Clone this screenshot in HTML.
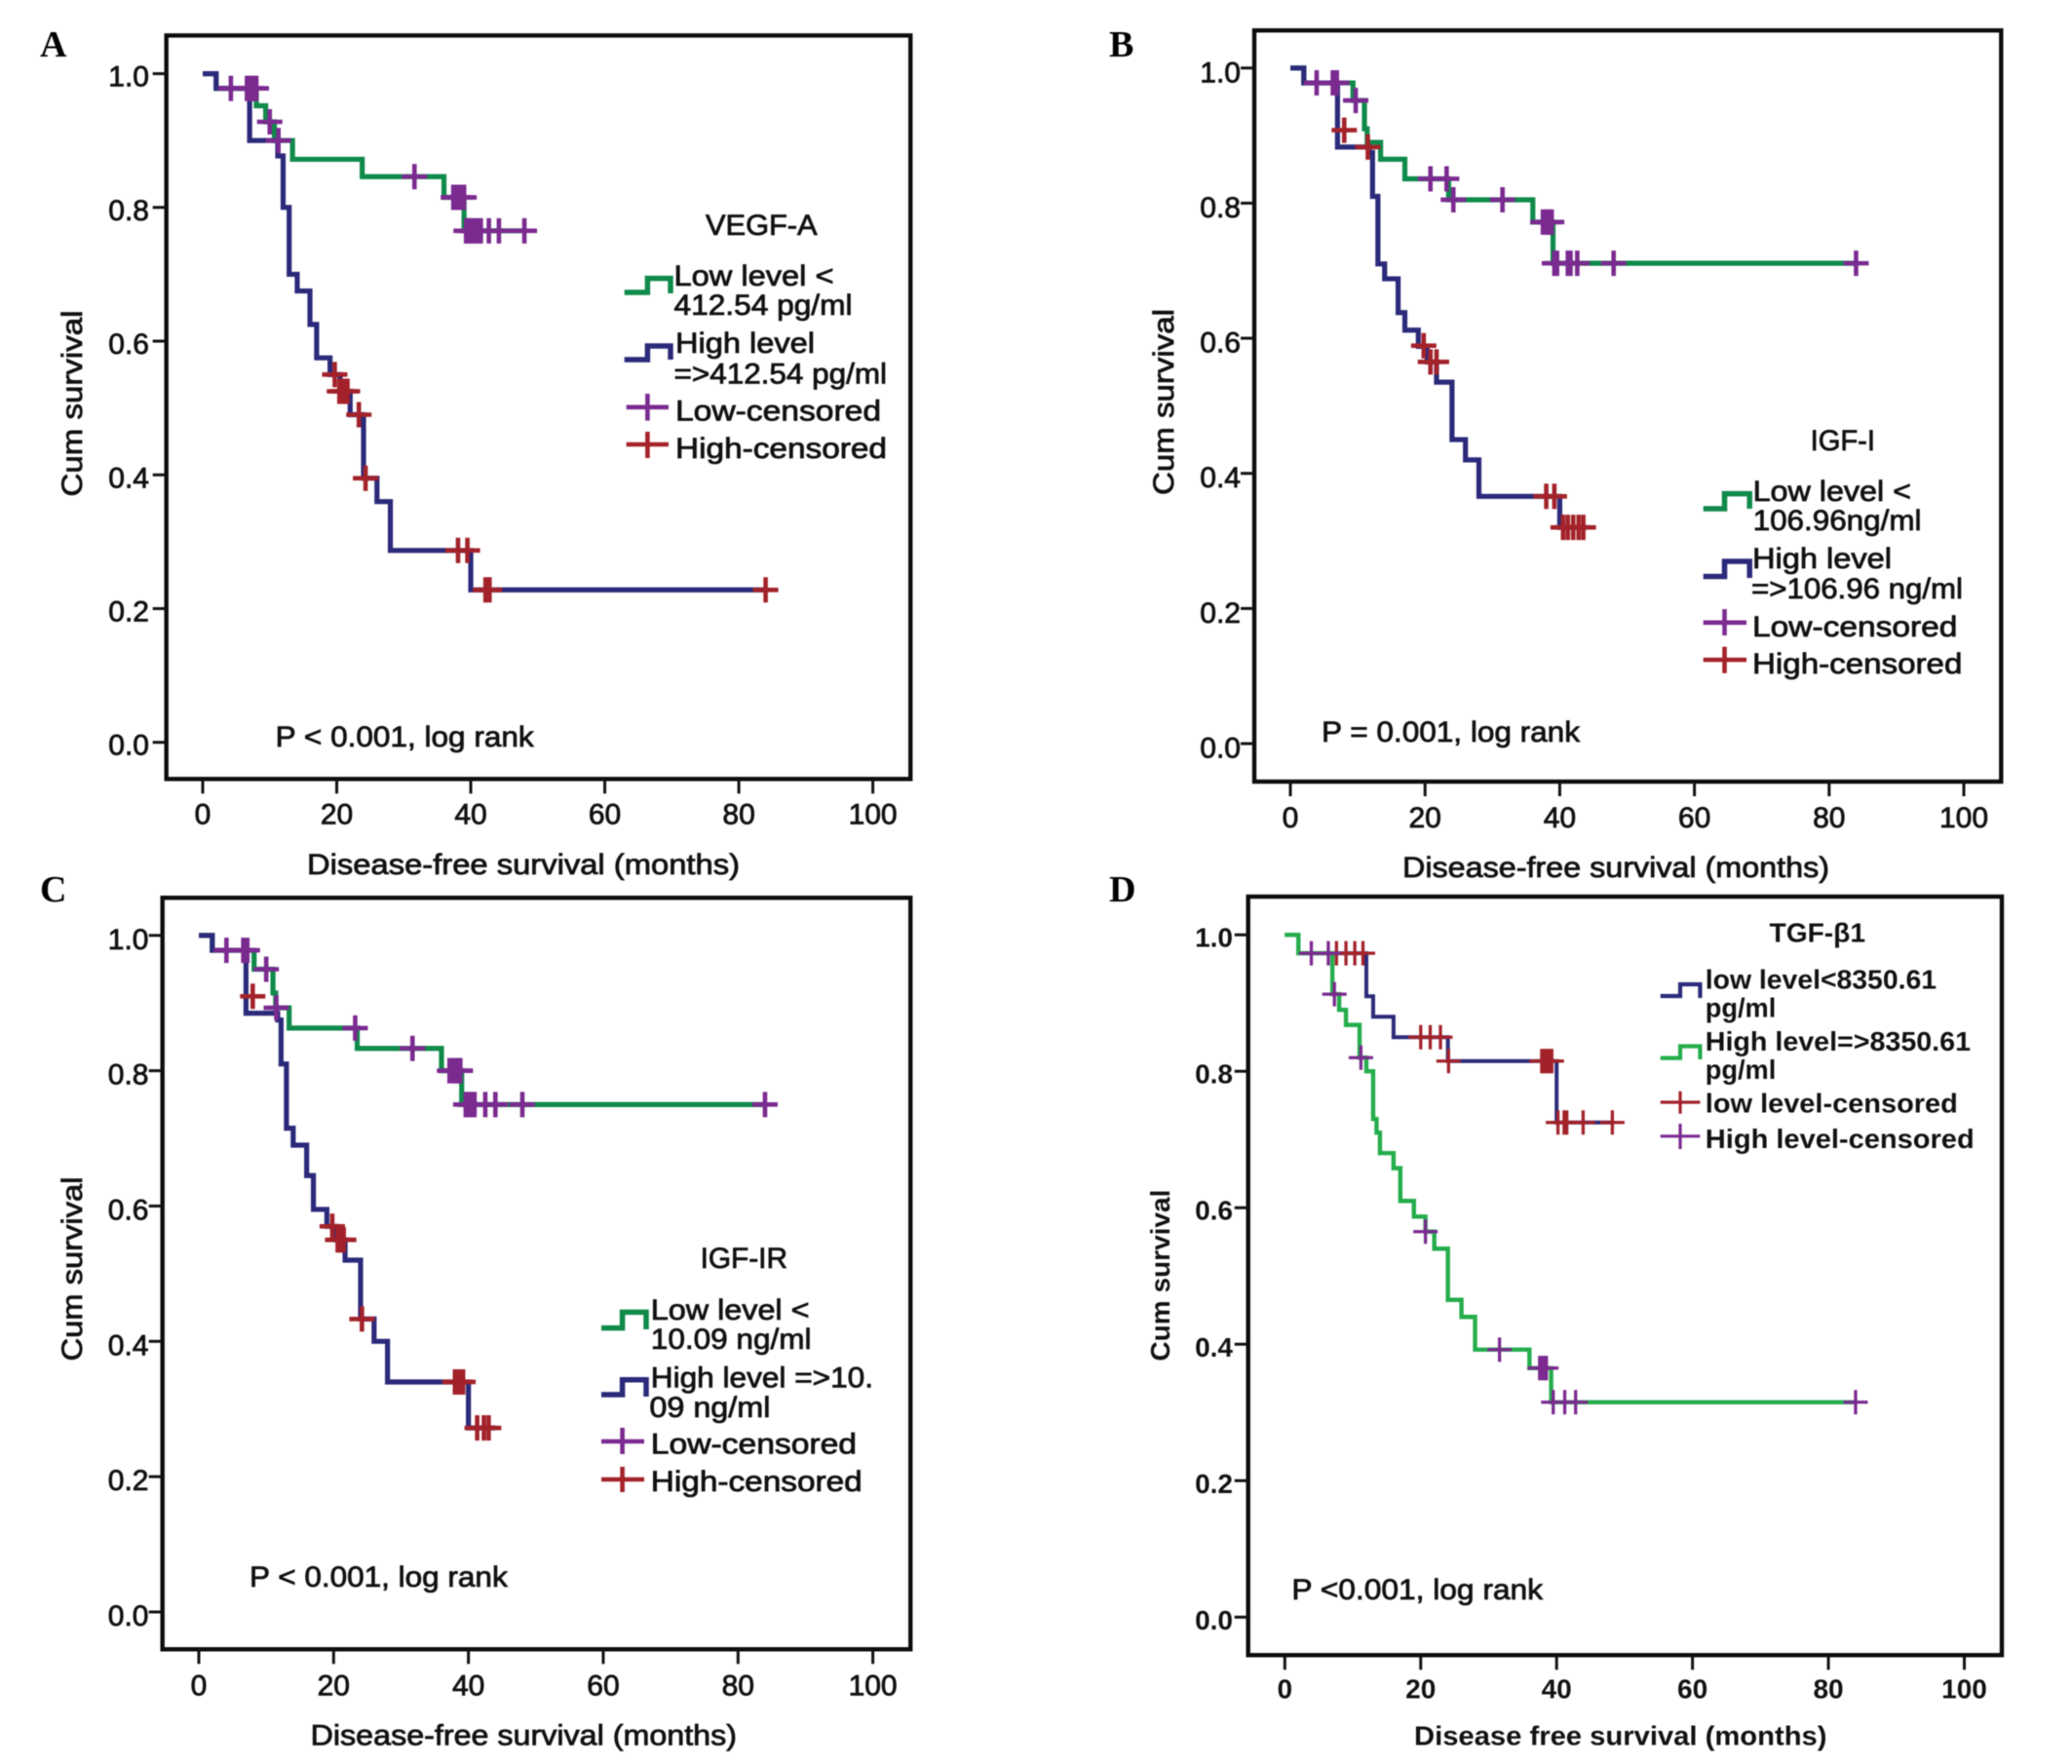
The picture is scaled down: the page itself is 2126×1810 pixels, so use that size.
<!DOCTYPE html>
<html lang="en">
<head>
<meta charset="utf-8">
<title>Disease-free survival Kaplan-Meier curves</title>
<style>
html,body{margin:0;padding:0;background:#fff;}
svg{display:block;filter:blur(.5px);}
text{font-family:"Liberation Sans",sans-serif;font-size:30px;fill:#111;stroke:#111;stroke-width:.8px;}
.bold{font-weight:bold;stroke-width:0;font-size:28px;}
.letter{font-family:"Liberation Serif",serif;font-weight:bold;font-size:38px;stroke-width:0;fill:#000;}
.frame{fill:none;stroke:#0c0c0c;stroke-width:4.4px;}
.sw{fill:none;stroke-width:5.5px;}
.cr{fill:none;stroke-width:4.6px;}
</style>
</head>
<body>
<svg id="figure" xmlns="http://www.w3.org/2000/svg" width="2126" height="1810" viewBox="0 0 2126 1810">
<rect width="2126" height="1810" fill="#fff" stroke="none"/>

<!-- Panel A -->
<g id="panel-a">
<text class="letter" x="41" y="58">A</text>
<rect class="frame" x="170.7" y="36.4" width="763.5" height="762.9"/>
<text x="84" y="414" text-anchor="middle" textLength="191" lengthAdjust="spacingAndGlyphs" transform="rotate(-90 84 414)">Cum survival</text>
<text x="315" y="897" textLength="444" lengthAdjust="spacingAndGlyphs">Disease-free survival (months)</text>
<text x="282.7" y="766" textLength="265" lengthAdjust="spacingAndGlyphs">P &lt; 0.001, log rank</text>
<text x="724" y="241" textLength="114.6" lengthAdjust="spacingAndGlyphs">VEGF-A</text>
<path class="sw" stroke="#0f8a4a" d="M640.7 300H664.4V285.6H688V301"/>
<text x="691.5" y="293" textLength="164" lengthAdjust="spacingAndGlyphs">Low level &lt;</text>
<text x="691.5" y="323" textLength="183" lengthAdjust="spacingAndGlyphs">412.54 pg/ml</text>
<path class="sw" stroke="#2b2a7a" d="M640.7 369H664.4V355H688V369"/>
<text x="693" y="362" textLength="143" lengthAdjust="spacingAndGlyphs">High level</text>
<text x="691.5" y="393.5" textLength="218.5" lengthAdjust="spacingAndGlyphs">=&gt;412.54 pg/ml</text>
<path class="cr" stroke="#7b2a90" d="M642.7 417.8H686M664.4 404V431.6"/>
<text x="693" y="431.6" textLength="211" lengthAdjust="spacingAndGlyphs">Low-censored</text>
<path class="cr" stroke="#a3222a" d="M642.7 456H686M664.4 443V470"/>
<text x="693" y="470" textLength="217" lengthAdjust="spacingAndGlyphs">High-censored</text>
</g>

<!-- Panel B -->
<g id="panel-b">
<text class="letter" x="1138" y="58">B</text>
<rect class="frame" x="1287" y="31.2" width="766.3" height="770.8"/>
<text x="1204" y="412.5" text-anchor="middle" textLength="191" lengthAdjust="spacingAndGlyphs" transform="rotate(-90 1204 412.5)">Cum survival</text>
<text x="1439" y="900" textLength="438" lengthAdjust="spacingAndGlyphs">Disease-free survival (months)</text>
<text x="1356" y="761" textLength="265" lengthAdjust="spacingAndGlyphs">P = 0.001, log rank</text>
<text x="1857.6" y="462" textLength="66.4" lengthAdjust="spacingAndGlyphs">IGF-I</text>
<path class="sw" stroke="#0f8a4a" d="M1747.7 522H1769.5V506.6H1795.2V522"/>
<text x="1798.6" y="514" textLength="162.4" lengthAdjust="spacingAndGlyphs">Low level &lt;</text>
<text x="1798.6" y="544" textLength="172.9" lengthAdjust="spacingAndGlyphs">106.96ng/ml</text>
<path class="sw" stroke="#2b2a7a" d="M1747.7 591.5H1769.5V576H1795.2V593"/>
<text x="1798" y="583" textLength="143" lengthAdjust="spacingAndGlyphs">High level</text>
<text x="1797" y="614" textLength="217" lengthAdjust="spacingAndGlyphs">=&gt;106.96 ng/ml</text>
<path class="cr" stroke="#7b2a90" d="M1747.7 638.8H1792M1769.5 625V652"/>
<text x="1798" y="653" textLength="210.4" lengthAdjust="spacingAndGlyphs">Low-censored</text>
<path class="cr" stroke="#a3222a" d="M1747.7 677H1792M1769.5 663.6V690.7"/>
<text x="1798" y="691" textLength="215.4" lengthAdjust="spacingAndGlyphs">High-censored</text>
</g>

<!-- Panel C -->
<g id="panel-c">
<text class="letter" x="41" y="925">C</text>
<rect class="frame" x="166.7" y="921.2" width="767.5" height="771.1"/>
<text x="84" y="1302" text-anchor="middle" textLength="189" lengthAdjust="spacingAndGlyphs" transform="rotate(-90 84 1302)">Cum survival</text>
<text x="318.6" y="1790.7" textLength="437.4" lengthAdjust="spacingAndGlyphs">Disease-free survival (months)</text>
<text x="256" y="1628" textLength="264.7" lengthAdjust="spacingAndGlyphs">P &lt; 0.001, log rank</text>
<text x="718.6" y="1301" textLength="89.4" lengthAdjust="spacingAndGlyphs">IGF-IR</text>
<path class="sw" stroke="#0f8a4a" d="M617 1362.6H638.6V1346.4H663V1364"/>
<text x="667.8" y="1354" textLength="162.7" lengthAdjust="spacingAndGlyphs">Low level &lt;</text>
<text x="667.8" y="1384" textLength="164.7" lengthAdjust="spacingAndGlyphs">10.09 ng/ml</text>
<path class="sw" stroke="#2b2a7a" d="M617 1431H638.6V1415.7H663V1433"/>
<text x="667.8" y="1423.3" textLength="228.2" lengthAdjust="spacingAndGlyphs">High level =&gt;10.</text>
<text x="666.4" y="1454" textLength="124" lengthAdjust="spacingAndGlyphs">09 ng/ml</text>
<path class="cr" stroke="#7b2a90" d="M617 1479H661M638.6 1465V1492"/>
<text x="667.8" y="1491.4" textLength="211.2" lengthAdjust="spacingAndGlyphs">Low-censored</text>
<path class="cr" stroke="#a3222a" d="M617 1518H661M638.6 1505V1531"/>
<text x="667.8" y="1530" textLength="216.9" lengthAdjust="spacingAndGlyphs">High-censored</text>
</g>

<!-- Panel D -->
<g id="panel-d">
<text class="letter" x="1138" y="925">D</text>
<rect class="frame" x="1280.7" y="920" width="773.3" height="778.3"/>
<text class="bold" x="1200" y="1308.6" text-anchor="middle" textLength="176" lengthAdjust="spacingAndGlyphs" transform="rotate(-90 1200 1308.6)">Cum survival</text>
<text class="bold" x="1451" y="1790.7" textLength="423.5" lengthAdjust="spacingAndGlyphs">Disease free survival (months)</text>
<text x="1325.4" y="1641" textLength="257.6" lengthAdjust="spacingAndGlyphs">P &lt;0.001, log rank</text>
<text class="bold" x="1815.5" y="966.7" textLength="98.5" lengthAdjust="spacingAndGlyphs">TGF-β1</text>
<path class="sw" style="stroke-width:4.2px" stroke="#2b2a7a" d="M1703.7 1022H1724V1010H1744.4V1024"/>
<text class="bold" x="1749.8" y="1014.6" textLength="237.2" lengthAdjust="spacingAndGlyphs">low level&lt;8350.61</text>
<text class="bold" x="1749.8" y="1043.5" textLength="72.5" lengthAdjust="spacingAndGlyphs">pg/ml</text>
<path class="sw" style="stroke-width:4.2px" stroke="#25ad4c" d="M1703.7 1085.6H1724V1073.5H1744.4V1087"/>
<text class="bold" x="1749.8" y="1078" textLength="272.2" lengthAdjust="spacingAndGlyphs">High level=&gt;8350.61</text>
<text class="bold" x="1749.8" y="1107" textLength="72.5" lengthAdjust="spacingAndGlyphs">pg/ml</text>
<path class="cr" style="stroke-width:3.2px" stroke="#a3222a" d="M1703.7 1131H1744.4M1724 1119.7V1142.7"/>
<text class="bold" x="1749.8" y="1141.6" textLength="259" lengthAdjust="spacingAndGlyphs">low level-censored</text>
<path class="cr" style="stroke-width:3.2px" stroke="#7b2a90" d="M1703.7 1165.8H1744.4M1724 1153V1179"/>
<text class="bold" x="1749.8" y="1178" textLength="275.9" lengthAdjust="spacingAndGlyphs">High level-censored</text>
</g>
</svg>

<script>
// ---- Axis values ----
const xTicks = [0, 20, 40, 60, 80, 100];
const yTicks = [0, 0.2, 0.4, 0.6, 0.8, 1.0];

// ---- Panel A (VEGF-A) ----
const aLowTimes = [2, 8, 9.4, 10.7, 13.4, 23.8, 36, 39];
const aLowSurv = [0.978, 0.952, 0.928, 0.90, 0.872, 0.846, 0.815, 0.765];
const aLowEnd = 48;
const aHighTimes = [2, 7, 11.2, 12, 12.9, 14.1, 16, 17, 19, 20.5, 22, 24, 26, 28, 40];
const aHighSurv = [0.978, 0.90, 0.877, 0.80, 0.70, 0.675, 0.625, 0.575, 0.55, 0.525, 0.49, 0.395, 0.36, 0.287, 0.228];
const aHighEnd = 84;
const aLowCensTimes = [4.2, 6.6, 7, 7.3, 7.7, 8, 10, 11.3, 31.6, 37.4, 37.7, 38, 38.2, 38.6, 39, 39.3, 39.6, 39.8, 40.3, 40.8, 41.2, 41.5, 42.7, 44.2, 48];
const aLowCensSurv = [0.978, 0.978, 0.978, 0.978, 0.978, 0.978, 0.928, 0.90, 0.846, 0.815, 0.815, 0.815, 0.815, 0.815, 0.815, 0.765, 0.765, 0.765, 0.765, 0.765, 0.765, 0.765, 0.765, 0.765, 0.765];
const aHighCensTimes = [19.7, 20.4, 20.8, 21.2, 21.6, 23.3, 24.3, 38.1, 39.5, 42.2, 42.8, 84];
const aHighCensSurv = [0.55, 0.525, 0.525, 0.525, 0.525, 0.49, 0.395, 0.287, 0.287, 0.228, 0.228, 0.228];

// ---- Panel B (IGF-I) ----
const bLowTimes = [2, 9.3, 11, 11.4, 13.4, 17, 23.5, 36, 39];
const bLowSurv = [0.978, 0.952, 0.91, 0.89, 0.865, 0.836, 0.805, 0.772, 0.711];
const bLowEnd = 84;
const bHighTimes = [2, 7, 11.7, 12.2, 13, 14, 16, 17, 19, 20.3, 21.7, 24, 26, 28, 40];
const bHighSurv = [0.978, 0.883, 0.875, 0.81, 0.71, 0.688, 0.638, 0.612, 0.588, 0.565, 0.535, 0.45, 0.42, 0.366, 0.32];
const bHighEnd = 44;
const bLowCensTimes = [3.9, 6.3, 6.9, 9.7, 20.8, 23.2, 24.2, 31.5, 37.5, 38, 38.3, 38.5, 38.8, 39.2, 39.6, 41.2, 41.6, 42.6, 48, 84];
const bLowCensSurv = [0.978, 0.978, 0.978, 0.952, 0.836, 0.836, 0.805, 0.805, 0.772, 0.772, 0.772, 0.772, 0.772, 0.711, 0.711, 0.711, 0.711, 0.711, 0.711, 0.711];
const bHighCensTimes = [8, 11.5, 19.8, 20.8, 21.7, 38, 39.2, 40.5, 41.2, 42, 42.8, 43.5];
const bHighCensSurv = [0.908, 0.883, 0.589, 0.565, 0.565, 0.366, 0.366, 0.32, 0.32, 0.32, 0.32, 0.32];

// ---- Panel C (IGF-IR) ----
const cLowTimes = [2, 8.2, 11, 11.4, 13.4, 23.5, 36, 39];
const cLowSurv = [0.978, 0.95, 0.915, 0.893, 0.863, 0.833, 0.80, 0.75];
const cLowEnd = 84;
const cHighTimes = [2, 7, 11.7, 12.2, 13, 14, 16, 17, 19, 20.3, 21.7, 24, 26, 28, 40];
const cHighSurv = [0.978, 0.885, 0.875, 0.81, 0.715, 0.69, 0.645, 0.595, 0.57, 0.55, 0.52, 0.433, 0.40, 0.34, 0.272];
const cHighEnd = 44;
const cLowCensTimes = [4.1, 6.6, 7.2, 10, 11.5, 23.2, 31.7, 37.2, 37.7, 38, 38.3, 38.6, 38.8, 39.6, 39.9, 40.3, 40.6, 40.9, 42.5, 44, 48, 84];
const cLowCensSurv = [0.978, 0.978, 0.978, 0.95, 0.893, 0.863, 0.833, 0.80, 0.80, 0.80, 0.80, 0.80, 0.80, 0.75, 0.75, 0.75, 0.75, 0.75, 0.75, 0.75, 0.75, 0.75];
const cHighCensTimes = [8, 19.8, 20.6, 21, 21.5, 24.2, 38, 38.3, 38.5, 38.8, 39.2, 41.3, 42.3, 43];
const cHighCensSurv = [0.91, 0.57, 0.55, 0.55, 0.55, 0.433, 0.34, 0.34, 0.34, 0.34, 0.34, 0.272, 0.272, 0.272];

// ---- Panel D (TGF-beta1) ----
const dLowTimes = [2, 12, 13, 16, 24, 40];
const dLowSurv = [0.973, 0.91, 0.88, 0.85, 0.815, 0.725];
const dLowEnd = 48;
const dHighTimes = [2, 7, 8, 9, 11, 12, 13, 13.5, 14, 16, 17, 19, 20.7, 22, 24, 26, 28, 36, 39.2];
const dHighSurv = [0.973, 0.913, 0.89, 0.868, 0.82, 0.80, 0.73, 0.71, 0.68, 0.658, 0.61, 0.587, 0.565, 0.54, 0.465, 0.44, 0.392, 0.365, 0.315];
const dHighEnd = 84;
const dLowCensTimes = [7.6, 9, 10.3, 11.5, 20, 21.4, 22.9, 24.1, 37.8, 38.1, 38.3, 38.6, 38.8, 39.1, 39.3, 40.2, 41.1, 41.5, 43.9, 48.2];
const dLowCensSurv = [0.973, 0.973, 0.973, 0.973, 0.85, 0.85, 0.85, 0.815, 0.815, 0.815, 0.815, 0.815, 0.815, 0.815, 0.815, 0.725, 0.725, 0.725, 0.725, 0.725];
const dHighCensTimes = [3.9, 6.4, 7.3, 11.2, 20.7, 31.6, 37.5, 37.8, 38, 38.3, 38.5, 39.5, 41.2, 42.8, 84];
const dHighCensSurv = [0.973, 0.973, 0.913, 0.82, 0.565, 0.392, 0.365, 0.365, 0.365, 0.365, 0.365, 0.315, 0.315, 0.315, 0.315];

const NS = 'http://www.w3.org/2000/svg';
const GREEN = '#0f8a4a', NAVY = '#2b2a7a', PURPLE = '#7b2a90', RED = '#a3222a', LIGHTGREEN = '#25ad4c';

function mk(tag, parent, attrs) {
  const el = document.createElementNS(NS, tag);
  for (const k in attrs) el.setAttribute(k, attrs[k]);
  parent.appendChild(el);
  return el;
}

function drawAxes(p) {
  const g = document.getElementById(p.id);
  const sx = v => p.x0 + (p.x100 - p.x0) * v / 100;
  const sy = v => p.y0 + (p.y1 - p.y0) * v;
  const cls = p.bold ? 'bold' : '';
  xTicks.forEach(v => {
    const t = mk('line', g, {x1: sx(v), x2: sx(v), y1: p.bottom, y2: p.bottom + 15, stroke: '#111', 'stroke-width': 3});
    
    
    const l = mk('text', g, {x: sx(v), y: p.bottom + p.xLabelDy, 'text-anchor': 'middle', class: cls});
    
    
    l.style.fontSize = p.tickFont + 'px';
    l.textContent = v;
  });
  yTicks.forEach(v => {
    const t = mk('line', g, {x1: p.left - 14, x2: p.left, y1: sy(v), y2: sy(v), stroke: '#111', 'stroke-width': 3});
    
    
    const l = mk('text', g, {x: p.yLabelX, y: sy(v) + p.yLabelDy, 'text-anchor': 'end', class: cls});
    
    
    l.style.fontSize = p.tickFont + 'px';
    l.textContent = v.toFixed(1);
  });
}

function drawStep(p, times, surv, end, color, width) {
  const g = document.getElementById(p.id);
  const sx = v => p.x0 + (p.x100 - p.x0) * v / 100;
  const sy = v => p.y0 + (p.y1 - p.y0) * v;
  let d = 'M' + sx(0) + ' ' + sy(1);
  times.forEach((t, i) => {
    d += 'H' + sx(t) + 'V' + sy(surv[i]);
  });
  d += 'H' + sx(end);
  const path = mk('path', g, {d: d, fill: 'none', stroke: color, 'stroke-width': width, 'stroke-linejoin': 'miter'});
  
  
}

function drawCensors(p, times, surv, color, width, arm) {
  const g = document.getElementById(p.id);
  const sx = v => p.x0 + (p.x100 - p.x0) * v / 100;
  const sy = v => p.y0 + (p.y1 - p.y0) * v;
  times.forEach((t, i) => {
    const x = sx(t), y = sy(surv[i]);
    const m = mk('path', g, {d: 'M' + (x - arm) + ' ' + y + 'H' + (x + arm) + 'M' + x + ' ' + (y - arm) + 'V' + (y + arm), fill: 'none', stroke: color, 'stroke-width': width});
    
    
  });
}

const panelA = {id: 'panel-a', x0: 208, x100: 895.6, y0: 761.7, y1: 75.6, left: 170.7, bottom: 799.3, xLabelDy: 46, yLabelX: 153, yLabelDy: 13, tickFont: 30};
const panelB = {id: 'panel-b', x0: 1324, x100: 2015, y0: 763, y1: 69.8, left: 1287, bottom: 802, xLabelDy: 47, yLabelX: 1273, yLabelDy: 14.5, tickFont: 30};
const panelC = {id: 'panel-c', x0: 204, x100: 895.6, y0: 1654, y1: 959.8, left: 166.7, bottom: 1692.3, xLabelDy: 47, yLabelX: 152.5, yLabelDy: 14, tickFont: 30};
const panelD = {id: 'panel-d', x0: 1318.3, x100: 2015.5, y0: 1659.3, y1: 959.2, left: 1280.7, bottom: 1698.3, xLabelDy: 44, yLabelX: 1265, yLabelDy: 12.5, tickFont: 28, bold: true};

[panelA, panelB, panelC, panelD].forEach(drawAxes);

drawStep(panelA, aLowTimes, aLowSurv, aLowEnd, GREEN, 5.2);
drawStep(panelA, aHighTimes, aHighSurv, aHighEnd, NAVY, 5.2);
drawCensors(panelA, aHighCensTimes, aHighCensSurv, RED, 4.6, 13);
drawCensors(panelA, aLowCensTimes, aLowCensSurv, PURPLE, 4.6, 13);

drawStep(panelB, bLowTimes, bLowSurv, bLowEnd, GREEN, 5.2);
drawStep(panelB, bHighTimes, bHighSurv, bHighEnd, NAVY, 5.2);
drawCensors(panelB, bHighCensTimes, bHighCensSurv, RED, 4.6, 13);
drawCensors(panelB, bLowCensTimes, bLowCensSurv, PURPLE, 4.6, 13);

drawStep(panelC, cLowTimes, cLowSurv, cLowEnd, GREEN, 5.2);
drawStep(panelC, cHighTimes, cHighSurv, cHighEnd, NAVY, 5.2);
drawCensors(panelC, cHighCensTimes, cHighCensSurv, RED, 4.6, 13);
drawCensors(panelC, cLowCensTimes, cLowCensSurv, PURPLE, 4.6, 13);

drawStep(panelD, dLowTimes, dLowSurv, dLowEnd, NAVY, 4);
drawStep(panelD, dHighTimes, dHighSurv, dHighEnd, LIGHTGREEN, 4.4);
drawCensors(panelD, dLowCensTimes, dLowCensSurv, RED, 3.3, 12.5);
drawCensors(panelD, dHighCensTimes, dHighCensSurv, PURPLE, 3.3, 12.5);
</script>
</body>
</html>
